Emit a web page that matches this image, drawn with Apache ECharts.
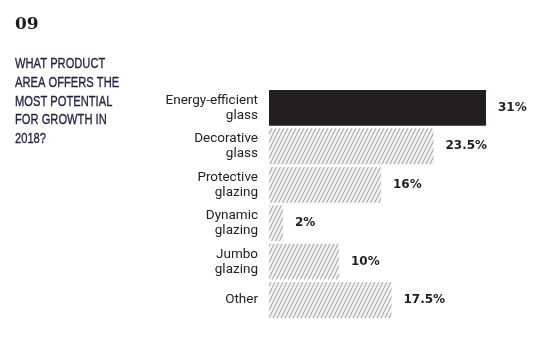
<!DOCTYPE html>
<html>
<head>
<meta charset="utf-8">
<script src="https://cdn.jsdelivr.net/npm/echarts@6/dist/echarts.min.js"></script>
<style>
  html, body { margin: 0; padding: 0; background: #fff; }
  #chart { width: 560px; height: 341px; }
</style>
</head>
<body>
<div id="chart"></div>
<script>
// Survey results: product areas with the most growth potential in 2018
const categories = [
  'Energy-efficient\nglass',
  'Decorative\nglass',
  'Protective\nglazing',
  'Dynamic\nglazing',
  'Jumbo\nglazing',
  'Other'
];
const shares = [31, 23.5, 16, 2, 10, 17.5];
const highlightIndex = 0;

// Diagonal hatch tile used for the non-highlighted bars
function hatchPattern() {
  const w = 4, h = 8;
  const c = document.createElement('canvas');
  c.width = w; c.height = h;
  const ctx = c.getContext('2d');
  ctx.fillStyle = '#f7f7f7';
  ctx.fillRect(0, 0, w, h);
  ctx.strokeStyle = '#b4b4b4';
  ctx.lineWidth = 1.4;
  for (let x0 = -w; x0 <= w; x0 += w) {
    ctx.beginPath();
    ctx.moveTo(x0, h);
    ctx.lineTo(x0 + w, 0);
    ctx.stroke();
  }
  return { image: c, repeat: 'repeat' };
}

const hatch = hatchPattern();
const chart = echarts.init(document.getElementById('chart'), null, { renderer: 'canvas' });

const questionLines = ['WHAT PRODUCT', 'AREA OFFERS THE', 'MOST POTENTIAL', 'FOR GROWTH IN', '2018?'];

const graphics = [
  {
    type: 'text', left: 15, top: 16,
    style: { text: '09', font: 'bold 17px "DejaVu Serif", "Liberation Serif", serif', fill: '#1d1d1f' }
  }
].concat(questionLines.map((t, i) => ({
  type: 'text', x: 15, y: 56 + i * 18.7, scaleX: 0.72,
  style: {
    text: t, font: '15.5px "Liberation Sans", "DejaVu Sans", sans-serif',
    fill: '#1f2140', stroke: '#1f2140', lineWidth: 0.35
  }
})));

chart.setOption({
  animation: false,
  graphic: graphics,
  grid: { left: 269, right: 11, top: 88.7, bottom: 21.7, containLabel: false },
  xAxis: {
    type: 'value', min: 0, max: 40,
    show: false
  },
  yAxis: {
    type: 'category', data: categories, inverse: true,
    axisLine: { show: false }, axisTick: { show: false }, splitLine: { show: false },
    axisLabel: {
      margin: 11, align: 'right', color: '#222',
      fontFamily: 'Roboto, "DejaVu Sans", sans-serif', fontSize: 13.5, lineHeight: 15
    }
  },
  series: [{
    type: 'bar',
    data: shares.map((v, i) => ({
      value: v,
      itemStyle: { color: i === highlightIndex ? '#231f20' : hatch }
    })),
    barCategoryGap: '7%',
    label: {
      show: true, position: 'right', distance: 12,
      formatter: p => p.value + '%',
      color: '#1d1d1f', fontWeight: 'bold', fontSize: 12,
      fontFamily: '"DejaVu Sans", sans-serif'
    }
  }]
});
</script>
</body>
</html>
